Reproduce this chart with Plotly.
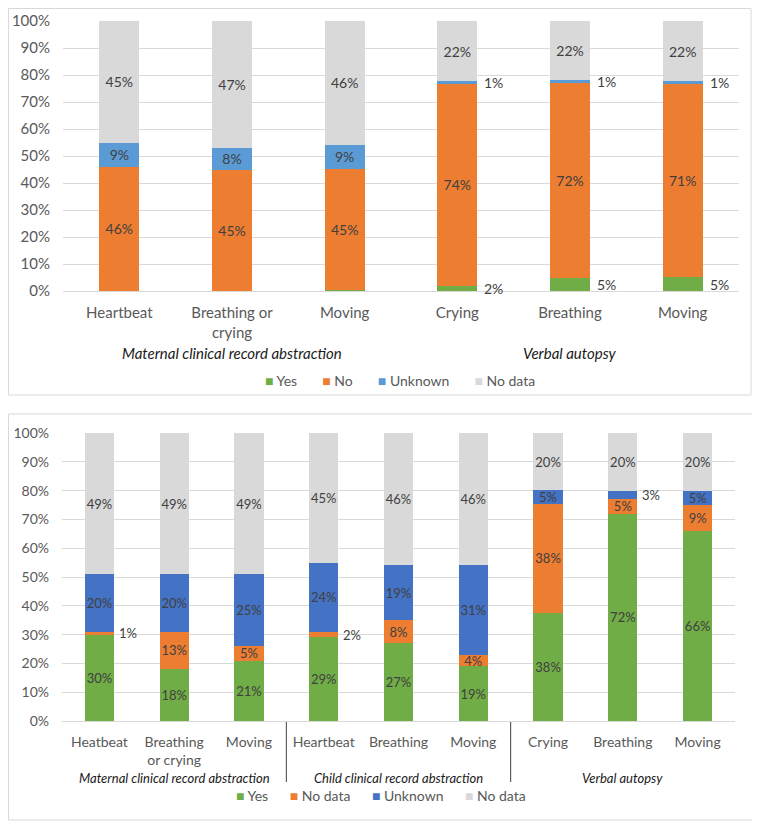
import plotly.graph_objects as go

# ---------------- Top chart data ----------------
top_ticks = ["Heartbeat", "Breathing or<br>crying", "Moving", "Crying", "Breathing", "Moving"]
top_groups = ["Maternal clinical record abstraction", "Verbal autopsy"]
top_group_idx = [[0, 1, 2], [3, 4, 5]]
top_series = ["Yes", "No", "Unknown", "No data"]
top_yes = [0, 0, 0.4, 2, 5, 5]
top_no = [46, 45, 45, 74, 72, 71]
top_unknown = [9, 8, 9, 1, 1, 1]
top_nodata = [45, 47, 46, 22, 22, 22]
top_colors = ["#70AD47", "#ED7D31", "#5B9BD5", "#D9D9D9"]

# ---------------- Bottom chart data ----------------
bot_ticks = ["Heatbeat", "Breathing<br>or crying", "Moving", "Heartbeat", "Breathing", "Moving",
             "Crying", "Breathing", "Moving"]
bot_groups = ["Maternal clinical record abstraction", "Child clinical record abstraction", "Verbal autopsy"]
bot_group_idx = [[0, 1, 2], [3, 4, 5], [6, 7, 8]]
bot_series = ["Yes", "No data", "Unknown", "No data"]
bot_yes = [30, 18, 21, 29, 27, 19, 38, 72, 66]
bot_orange = [1, 13, 5, 2, 8, 4, 38, 5, 9]
bot_unknown = [20, 20, 25, 24, 19, 31, 5, 3, 5]
bot_nodata = [49, 49, 49, 45, 46, 46, 20, 20, 20]
bot_colors = ["#70AD47", "#ED7D31", "#4472C4", "#D9D9D9"]

FONT = "Lato, 'Open Sans', sans-serif"
TICK_COL = "#595959"
LAB_COL = "#404040"
GRID = "#D9D9D9"

# page has an 8px body margin: the figure is sized/placed to fill the 760x822 window
OFF = 8
W, H = 760 - OFF, 822 - OFF


def px(x):
    return max(0.5, x - OFF) / W


def py(y):
    return 1 - max(0.5, y - OFF) / H


fig = go.Figure()


def add_chart(xa, ya, series_vals, names, colors, bar_w, bar_px, inside_min, fsize, out_gap):
    n = len(series_vals[0])
    xs = list(range(n))
    totals = [sum(s[i] for s in series_vals) for i in range(n)]
    cum = [0.0] * n
    for vals, name, col in zip(series_vals, names, colors):
        texts = []
        for i, v in enumerate(vals):
            texts.append(f"{v:g}%" if v >= inside_min else "")
            if 1 <= v < inside_min:
                yc = (cum[i] + v / 2) / totals[i] * 100
                fig.add_annotation(x=i, y=yc, xref=xa, yref=ya, text=f"{v:g}%",
                                   showarrow=False, xanchor="left", yanchor="middle",
                                   xshift=bar_px / 2 + out_gap,
                                   font=dict(family=FONT, size=fsize, color=LAB_COL))
            cum[i] += v
        fig.add_trace(go.Bar(
            x=xs, y=vals, name=name, width=bar_w,
            marker=dict(color=col, line=dict(width=0)),
            text=texts, textposition="inside", insidetextanchor="middle",
            textangle=0, constraintext="none",
            textfont=dict(family=FONT, size=fsize, color=LAB_COL),
            xaxis=xa, yaxis=ya, showlegend=False, hoverinfo="skip"))


add_chart("x", "y", [top_yes, top_no, top_unknown, top_nodata], top_series, top_colors,
          0.355, 40, 6, 14, 5)
add_chart("x2", "y2", [bot_yes, bot_orange, bot_unknown, bot_nodata], bot_series, bot_colors,
          0.39, 29, 4, 13, 3)

axis_font = dict(family=FONT, size=14, color=TICK_COL)

fig.update_layout(
    width=W, height=H, autosize=False,
    margin=dict(l=0, r=0, t=0, b=0, pad=0, autoexpand=False),
    paper_bgcolor="white", plot_bgcolor="white",
    barmode="stack", barnorm="percent",
    xaxis=dict(domain=[px(63), px(739)], anchor="y", range=[-0.5, len(top_ticks) - 0.5],
               tickvals=list(range(len(top_ticks))), ticktext=top_ticks, automargin=False,
               showgrid=False, zeroline=False, showline=True, linecolor=GRID, linewidth=1,
               ticks="", tickfont=dict(family=FONT, size=15, color=TICK_COL),
               ticklabelstandoff=8, fixedrange=True),
    yaxis=dict(domain=[py(291), py(21)], anchor="x", range=[0, 100], dtick=10, automargin=False,
               ticksuffix="%", showgrid=True, gridcolor=GRID, gridwidth=1,
               zeroline=False, showline=False, ticks="",
               tickfont=dict(family=FONT, size=15, color=TICK_COL),
               ticklabelstandoff=12, fixedrange=True),
    xaxis2=dict(domain=[px(62), px(735)], anchor="y2", range=[-0.5, len(bot_ticks) - 0.5],
                tickvals=list(range(len(bot_ticks))), ticktext=bot_ticks, automargin=False,
                showgrid=False, zeroline=False, showline=True, linecolor=GRID, linewidth=1,
                ticks="", tickfont=axis_font, ticklabelstandoff=8, fixedrange=True),
    yaxis2=dict(domain=[py(721), py(433)], anchor="x2", range=[0, 100], dtick=10, automargin=False,
                ticksuffix="%", showgrid=True, gridcolor=GRID, gridwidth=1,
                zeroline=False, showline=False, ticks="",
                tickfont=axis_font, ticklabelstandoff=12, fixedrange=True),
)

# group labels
for name, idx in zip(top_groups, top_group_idx):
    fig.add_annotation(x=sum(idx) / len(idx), y=py(353), xref="x", yref="paper",
                       xanchor="center", yanchor="middle",
                       text=f"<i>{name}</i>", showarrow=False,
                       font=dict(family=FONT, size=15, color="#1a1a1a"))
for name, idx in zip(bot_groups, bot_group_idx):
    fig.add_annotation(x=sum(idx) / len(idx), y=py(778), xref="x2", yref="paper",
                       xanchor="center", yanchor="middle",
                       text=f"<i>{name}</i>", showarrow=False,
                       font=dict(family=FONT, size=13, color="#1a1a1a"))

# group separators on bottom chart
for idx in bot_group_idx[:-1]:
    fig.add_shape(type="line", xref="x2", yref="paper", x0=idx[-1] + 0.5, x1=idx[-1] + 0.5,
                  y0=py(722), y1=py(782), line=dict(color="#404040", width=1))


# legends
def legend_text(names, colors, gap):
    parts = [f'<span style="color:{c}">■</span>\u00a0{n}' for n, c in zip(names, colors)]
    return ("\u00a0" * gap).join(parts)


fig.add_annotation(x=px(400), y=py(380), xref="paper", yref="paper",
                   xanchor="center", yanchor="middle",
                   text=legend_text(top_series, top_colors, 7), showarrow=False,
                   font=dict(family=FONT, size=14, color=TICK_COL))
fig.add_annotation(x=px(381), y=py(795), xref="paper", yref="paper",
                   xanchor="center", yanchor="middle",
                   text=legend_text(bot_series, bot_colors, 6), showarrow=False,
                   font=dict(family=FONT, size=14, color=TICK_COL))

# chart borders
fig.add_shape(type="rect", xref="paper", yref="paper", x0=px(2), x1=px(751), y0=py(395), y1=py(1),
              line=dict(color=GRID, width=1))
fig.add_shape(type="rect", xref="paper", yref="paper", x0=px(3), x1=px(754), y0=py(820), y1=py(414),
              line=dict(color=GRID, width=1))

fig.write_html("out.html")
